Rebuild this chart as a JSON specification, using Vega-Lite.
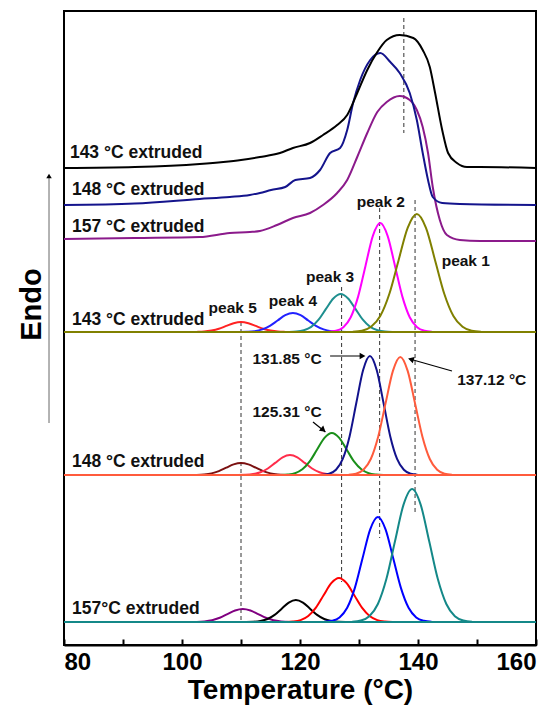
{
  "$schema": "https://vega.github.io/schema/vega-lite/v6.json",
  "width": 472,
  "height": 634,
  "autosize": {"type": "none"},
  "padding": {"left": 64, "top": 11, "right": 24, "bottom": 66},
  "background": "white",
  "config": {
    "view": {"stroke": "#000000", "strokeWidth": 2},
    "font": "Liberation Sans"
  },
  "encoding": {
    "x": {
      "field": "x", "type": "quantitative",
      "scale": {"domain": [80, 160], "nice": false, "zero": false},
      "axis": {
        "values": [80, 90, 100, 110, 120, 130, 140, 150, 160],
        "labelExpr": "datum.value % 20 === 0 ? datum.label : ''",
        "format": "d",
        "title": "Temperature (°C)",
        "titleFont": "Liberation Sans", "titleFontSize": 28, "titleFontWeight": "bold", "titleColor": "#000000",
        "labelFont": "Liberation Sans", "labelFontSize": 24, "labelFontWeight": "bold", "labelColor": "#000000",
        "labelPadding": 11, "titlePadding": 2,
        "tickSize": -6, "tickWidth": 2, "tickColor": "#000000",
        "domainWidth": 2, "domainColor": "#000000", "grid": false
      }
    },
    "y": {
      "field": "y", "type": "quantitative",
      "scale": {"domain": [0, 634], "nice": false, "zero": false},
      "axis": {
        "title": "Endo", "labels": false, "ticks": false, "domain": false, "grid": false,
        "titleFont": "Liberation Sans", "titleFontSize": 29, "titleFontWeight": "bold", "titleColor": "#000000",
        "titlePadding": 18, "titleY": 293
      }
    }
  },
  "layer": [
    {
      "data": {"values": [
        {"x": 110, "y": 323, "y2": 23},
        {"x": 127.05, "y": 358, "y2": 63},
        {"x": 133.5, "y": 437, "y2": 107},
        {"x": 139.5, "y": 445, "y2": 132},
        {"x": 137.6, "y": 627, "y2": 512}
      ]},
      "mark": {"type": "rule", "strokeDash": [4, 3], "strokeWidth": 1, "color": "#333333"},
      "encoding": {"y2": {"field": "y2"}}
    },
    {
      "data": {"values": [
        {"k":"p5_143","x":101.25,"y":313.0},{"k":"p5_143","x":102.5,"y":313.1},{"k":"p5_143","x":103.75,"y":313.4},{"k":"p5_143","x":105,"y":314.4},{"k":"p5_143","x":106.25,"y":316.2},{"k":"p5_143","x":107.5,"y":319.1},{"k":"p5_143","x":108.75,"y":321.8},{"k":"p5_143","x":110,"y":323},{"k":"p5_143","x":111.25,"y":321.8},{"k":"p5_143","x":112.5,"y":319.1},{"k":"p5_143","x":113.75,"y":316.2},{"k":"p5_143","x":115,"y":314.4},{"k":"p5_143","x":116.25,"y":313.4},{"k":"p5_143","x":117.5,"y":313.1},{"k":"p5_143","x":118.75,"y":313.0},
        {"k":"p4_143","x":109.7,"y":313.0},{"k":"p4_143","x":111.0,"y":313.2},{"k":"p4_143","x":112.3,"y":313.8},{"k":"p4_143","x":113.6,"y":315.6},{"k":"p4_143","x":114.9,"y":319.2},{"k":"p4_143","x":116.2,"y":324.5},{"k":"p4_143","x":117.5,"y":329.8},{"k":"p4_143","x":118.8,"y":332},{"k":"p4_143","x":120.1,"y":329.8},{"k":"p4_143","x":121.4,"y":324.5},{"k":"p4_143","x":122.7,"y":319.2},{"k":"p4_143","x":124.0,"y":315.6},{"k":"p4_143","x":125.3,"y":313.8},{"k":"p4_143","x":126.6,"y":313.2},{"k":"p4_143","x":127.9,"y":313.0},
        {"k":"p3_143","x":118.15,"y":313.1},{"k":"p3_143","x":119.4,"y":313.4},{"k":"p3_143","x":120.65,"y":314.7},{"k":"p3_143","x":121.9,"y":318.1},{"k":"p3_143","x":123.15,"y":325.3},{"k":"p3_143","x":124.4,"y":336.1},{"k":"p3_143","x":125.65,"y":346.5},{"k":"p3_143","x":126.9,"y":351},{"k":"p3_143","x":128.15,"y":346.5},{"k":"p3_143","x":129.4,"y":336.1},{"k":"p3_143","x":130.65,"y":325.3},{"k":"p3_143","x":131.9,"y":318.1},{"k":"p3_143","x":133.15,"y":314.7},{"k":"p3_143","x":134.4,"y":313.4},{"k":"p3_143","x":135.65,"y":313.1},
        {"k":"p2_143","x":124.85,"y":313.2},{"k":"p2_143","x":126.1,"y":314.2},{"k":"p2_143","x":127.35,"y":317.8},{"k":"p2_143","x":128.6,"y":327.8},{"k":"p2_143","x":129.85,"y":348.4},{"k":"p2_143","x":131.1,"y":379.1},{"k":"p2_143","x":132.35,"y":409.2},{"k":"p2_143","x":133.6,"y":422},{"k":"p2_143","x":134.85,"y":409.2},{"k":"p2_143","x":136.1,"y":379.1},{"k":"p2_143","x":137.35,"y":348.4},{"k":"p2_143","x":138.6,"y":327.8},{"k":"p2_143","x":139.85,"y":317.8},{"k":"p2_143","x":141.1,"y":314.2},{"k":"p2_143","x":142.35,"y":313.2},
        {"k":"p1_143","x":128.95,"y":313.3},{"k":"p1_143","x":130.5,"y":314.3},{"k":"p1_143","x":132.05,"y":318.2},{"k":"p1_143","x":133.6,"y":329.0},{"k":"p1_143","x":135.15,"y":351.3},{"k":"p1_143","x":136.7,"y":384.6},{"k":"p1_143","x":138.25,"y":417.1},{"k":"p1_143","x":139.8,"y":431},{"k":"p1_143","x":141.35,"y":417.1},{"k":"p1_143","x":142.9,"y":384.6},{"k":"p1_143","x":144.45,"y":351.3},{"k":"p1_143","x":146.0,"y":329.0},{"k":"p1_143","x":147.55,"y":318.2},{"k":"p1_143","x":149.1,"y":314.3},{"k":"p1_143","x":150.65,"y":313.3},
        {"k":"p5_148","x":101.25,"y":170.0},{"k":"p5_148","x":102.5,"y":170.1},{"k":"p5_148","x":103.75,"y":170.5},{"k":"p5_148","x":105,"y":171.6},{"k":"p5_148","x":106.25,"y":173.9},{"k":"p5_148","x":107.5,"y":177.3},{"k":"p5_148","x":108.75,"y":180.6},{"k":"p5_148","x":110,"y":182},{"k":"p5_148","x":111.25,"y":180.6},{"k":"p5_148","x":112.5,"y":177.3},{"k":"p5_148","x":113.75,"y":173.9},{"k":"p5_148","x":115,"y":171.6},{"k":"p5_148","x":116.25,"y":170.5},{"k":"p5_148","x":117.5,"y":170.1},{"k":"p5_148","x":118.75,"y":170.0},
        {"k":"p4_148","x":109.55,"y":170.0},{"k":"p4_148","x":110.8,"y":170.2},{"k":"p4_148","x":112.05,"y":170.9},{"k":"p4_148","x":113.3,"y":172.7},{"k":"p4_148","x":114.55,"y":176.5},{"k":"p4_148","x":115.8,"y":182.1},{"k":"p4_148","x":117.05,"y":187.7},{"k":"p4_148","x":118.3,"y":190},{"k":"p4_148","x":119.55,"y":187.7},{"k":"p4_148","x":120.8,"y":182.1},{"k":"p4_148","x":122.05,"y":176.5},{"k":"p4_148","x":123.3,"y":172.7},{"k":"p4_148","x":124.55,"y":170.9},{"k":"p4_148","x":125.8,"y":170.2},{"k":"p4_148","x":127.05,"y":170.0},
        {"k":"p3_148","x":116.65,"y":170.1},{"k":"p3_148","x":117.9,"y":170.5},{"k":"p3_148","x":119.15,"y":171.8},{"k":"p3_148","x":120.4,"y":175.7},{"k":"p3_148","x":121.65,"y":183.6},{"k":"p3_148","x":122.9,"y":195.5},{"k":"p3_148","x":124.15,"y":207.1},{"k":"p3_148","x":125.4,"y":212},{"k":"p3_148","x":126.65,"y":207.1},{"k":"p3_148","x":127.9,"y":195.5},{"k":"p3_148","x":129.15,"y":183.6},{"k":"p3_148","x":130.4,"y":175.7},{"k":"p3_148","x":131.65,"y":171.8},{"k":"p3_148","x":132.9,"y":170.5},{"k":"p3_148","x":134.15,"y":170.1},
        {"k":"p2_148","x":123.8,"y":170.3},{"k":"p2_148","x":124.95,"y":171.3},{"k":"p2_148","x":126.1,"y":175.2},{"k":"p2_148","x":127.25,"y":186.1},{"k":"p2_148","x":128.4,"y":208.6},{"k":"p2_148","x":129.55,"y":242.2},{"k":"p2_148","x":130.7,"y":275.0},{"k":"p2_148","x":131.85,"y":289},{"k":"p2_148","x":133.0,"y":275.0},{"k":"p2_148","x":134.15,"y":242.2},{"k":"p2_148","x":135.3,"y":208.6},{"k":"p2_148","x":136.45,"y":186.1},{"k":"p2_148","x":137.6,"y":175.2},{"k":"p2_148","x":138.75,"y":171.3},{"k":"p2_148","x":139.9,"y":170.3},
        {"k":"p1_148","x":128.25,"y":170.3},{"k":"p1_148","x":129.5,"y":171.3},{"k":"p1_148","x":130.75,"y":175.2},{"k":"p1_148","x":132.0,"y":186.0},{"k":"p1_148","x":133.25,"y":208.3},{"k":"p1_148","x":134.5,"y":241.6},{"k":"p1_148","x":135.75,"y":274.1},{"k":"p1_148","x":137.0,"y":288},{"k":"p1_148","x":138.25,"y":274.1},{"k":"p1_148","x":139.5,"y":241.6},{"k":"p1_148","x":140.75,"y":208.3},{"k":"p1_148","x":142.0,"y":186.0},{"k":"p1_148","x":143.25,"y":175.2},{"k":"p1_148","x":144.5,"y":171.3},{"k":"p1_148","x":145.75,"y":170.3},
        {"k":"p5_157","x":101.2,"y":23.0},{"k":"p5_157","x":102.5,"y":23.1},{"k":"p5_157","x":103.8,"y":23.6},{"k":"p5_157","x":105.1,"y":24.8},{"k":"p5_157","x":106.4,"y":27.2},{"k":"p5_157","x":107.7,"y":30.9},{"k":"p5_157","x":109.0,"y":34.5},{"k":"p5_157","x":110.3,"y":36},{"k":"p5_157","x":111.6,"y":34.5},{"k":"p5_157","x":112.9,"y":30.9},{"k":"p5_157","x":114.2,"y":27.2},{"k":"p5_157","x":115.5,"y":24.8},{"k":"p5_157","x":116.8,"y":23.6},{"k":"p5_157","x":118.1,"y":23.1},{"k":"p5_157","x":119.4,"y":23.0},
        {"k":"p4_157","x":110.9,"y":23.0},{"k":"p4_157","x":112.1,"y":23.2},{"k":"p4_157","x":113.3,"y":24.0},{"k":"p4_157","x":114.5,"y":26.0},{"k":"p4_157","x":115.7,"y":30.1},{"k":"p4_157","x":116.9,"y":36.3},{"k":"p4_157","x":118.1,"y":42.4},{"k":"p4_157","x":119.3,"y":45},{"k":"p4_157","x":120.5,"y":42.4},{"k":"p4_157","x":121.7,"y":36.3},{"k":"p4_157","x":122.9,"y":30.1},{"k":"p4_157","x":124.1,"y":26.0},{"k":"p4_157","x":125.3,"y":24.0},{"k":"p4_157","x":126.5,"y":23.2},{"k":"p4_157","x":127.7,"y":23.0},
        {"k":"p3_157","x":117.5,"y":23.1},{"k":"p3_157","x":118.8,"y":23.5},{"k":"p3_157","x":120.1,"y":24.9},{"k":"p3_157","x":121.4,"y":29.0},{"k":"p3_157","x":122.7,"y":37.3},{"k":"p3_157","x":124.0,"y":49.7},{"k":"p3_157","x":125.3,"y":61.8},{"k":"p3_157","x":126.6,"y":67},{"k":"p3_157","x":127.9,"y":61.8},{"k":"p3_157","x":129.2,"y":49.7},{"k":"p3_157","x":130.5,"y":37.3},{"k":"p3_157","x":131.8,"y":29.0},{"k":"p3_157","x":133.1,"y":24.9},{"k":"p3_157","x":134.4,"y":23.5},{"k":"p3_157","x":135.7,"y":23.1},
        {"k":"p2_157","x":124.1,"y":23.2},{"k":"p2_157","x":125.4,"y":24.2},{"k":"p2_157","x":126.7,"y":27.6},{"k":"p2_157","x":128.0,"y":37.2},{"k":"p2_157","x":129.3,"y":57.1},{"k":"p2_157","x":130.6,"y":86.7},{"k":"p2_157","x":131.9,"y":115.7},{"k":"p2_157","x":133.2,"y":128},{"k":"p2_157","x":134.5,"y":115.7},{"k":"p2_157","x":135.8,"y":86.7},{"k":"p2_157","x":137.1,"y":57.1},{"k":"p2_157","x":138.4,"y":37.2},{"k":"p2_157","x":139.7,"y":27.6},{"k":"p2_157","x":141.0,"y":24.2},{"k":"p2_157","x":142.3,"y":23.2},
        {"k":"p1_157","x":128.85,"y":23.3},{"k":"p1_157","x":130.3,"y":24.5},{"k":"p1_157","x":131.75,"y":28.8},{"k":"p1_157","x":133.2,"y":41.0},{"k":"p1_157","x":134.65,"y":66.2},{"k":"p1_157","x":136.1,"y":103.7},{"k":"p1_157","x":137.55,"y":140.4},{"k":"p1_157","x":139.0,"y":156},{"k":"p1_157","x":140.45,"y":140.4},{"k":"p1_157","x":141.9,"y":103.7},{"k":"p1_157","x":143.35,"y":66.2},{"k":"p1_157","x":144.8,"y":41.0},{"k":"p1_157","x":146.25,"y":28.8},{"k":"p1_157","x":147.7,"y":24.5},{"k":"p1_157","x":149.15,"y":23.3}
      ]},
      "mark": {"type": "line", "interpolate": "monotone", "strokeWidth": 2},
      "encoding": {
        "color": {"field": "k", "type": "nominal", "legend": null,
          "scale": {
            "domain": ["p5_143","p4_143","p3_143","p2_143","p1_143","p5_148","p4_148","p3_148","p2_148","p1_148","p5_157","p4_157","p3_157","p2_157","p1_157","b143","b148","b157","d143","d148","d157"],
            "range": ["#ff2222","#2222ff","#1e8f8f","#ff00ff","#808000","#7b1111","#ff2d4b","#1a8f1a","#12128c","#ff5b3c","#800080","#000000","#ff0000","#0000ff","#148888","#808000","#ff5b3c","#148888","#000000","#14148c","#8b1a8b"]
          }
        }
      }
    },
    {
      "data": {"values": [
        {"k":"b143","x":80,"y":313},{"k":"b143","x":160,"y":313},
        {"k":"b148","x":80,"y":170},{"k":"b148","x":160,"y":170},
        {"k":"b157","x":80,"y":23},{"k":"b157","x":160,"y":23}
      ]},
      "mark": {"type": "line", "strokeWidth": 2},
      "encoding": {
        "color": {"field": "k", "type": "nominal", "legend": null}
      }
    },
    {
      "data": {"values": [
        {"k":"d157","x":80,"y":406},{"k":"d157","x":92,"y":407},{"k":"d157","x":103,"y":408},{"k":"d157","x":108.1,"y":412},{"k":"d157","x":111.5,"y":413},{"k":"d157","x":113.2,"y":414},{"k":"d157","x":116.1,"y":420},{"k":"d157","x":118.8,"y":427},{"k":"d157","x":121.7,"y":432},{"k":"d157","x":123.9,"y":440},{"k":"d157","x":126.3,"y":452},{"k":"d157","x":128.0,"y":465},{"k":"d157","x":129.7,"y":488},{"k":"d157","x":131.4,"y":512},{"k":"d157","x":133.1,"y":533},{"k":"d157","x":134.7,"y":543},{"k":"d157","x":136.9,"y":549},{"k":"d157","x":138.6,"y":545},{"k":"d157","x":139.8,"y":535},{"k":"d157","x":140.8,"y":518},{"k":"d157","x":141.7,"y":492},{"k":"d157","x":142.5,"y":458},{"k":"d157","x":143.7,"y":425},{"k":"d157","x":144.9,"y":410},{"k":"d157","x":147.1,"y":405},{"k":"d157","x":150.5,"y":404},{"k":"d157","x":160,"y":404},
        {"k":"d148","x":80,"y":440},{"k":"d148","x":92,"y":441.5},{"k":"d148","x":103,"y":446},{"k":"d148","x":108.1,"y":448},{"k":"d148","x":111.5,"y":450},{"k":"d148","x":113.2,"y":452},{"k":"d148","x":115.1,"y":455},{"k":"d148","x":117.5,"y":458},{"k":"d148","x":119.2,"y":465},{"k":"d148","x":121.7,"y":467},{"k":"d148","x":123.4,"y":475},{"k":"d148","x":125.1,"y":492},{"k":"d148","x":126.8,"y":497},{"k":"d148","x":128.0,"y":515},{"k":"d148","x":129.0,"y":542},{"k":"d148","x":130.2,"y":565},{"k":"d148","x":131.9,"y":585},{"k":"d148","x":133.6,"y":592},{"k":"d148","x":135.3,"y":583},{"k":"d148","x":136.9,"y":572},{"k":"d148","x":138.6,"y":552},{"k":"d148","x":139.8,"y":525},{"k":"d148","x":140.8,"y":492},{"k":"d148","x":141.7,"y":465},{"k":"d148","x":142.5,"y":448},{"k":"d148","x":144.1,"y":442},{"k":"d148","x":147.1,"y":441},{"k":"d148","x":160,"y":440},
        {"k":"d143","x":80,"y":477},{"k":"d143","x":92,"y":478},{"k":"d143","x":103,"y":481},{"k":"d143","x":107,"y":483},{"k":"d143","x":110,"y":485},{"k":"d143","x":113.2,"y":488},{"k":"d143","x":116.6,"y":492},{"k":"d143","x":118.8,"y":497},{"k":"d143","x":121.7,"y":502},{"k":"d143","x":123.9,"y":510},{"k":"d143","x":126.3,"y":520},{"k":"d143","x":128.0,"y":530},{"k":"d143","x":129.7,"y":552},{"k":"d143","x":131.4,"y":575},{"k":"d143","x":133.1,"y":593},{"k":"d143","x":134.7,"y":605},{"k":"d143","x":136.9,"y":610},{"k":"d143","x":139.2,"y":607},{"k":"d143","x":140.8,"y":595},{"k":"d143","x":142.0,"y":578},{"k":"d143","x":142.9,"y":552},{"k":"d143","x":144.1,"y":515},{"k":"d143","x":145.1,"y":492},{"k":"d143","x":146.6,"y":482},{"k":"d143","x":148.3,"y":478},{"k":"d143","x":150.5,"y":478},{"k":"d143","x":160,"y":477}
      ]},
      "mark": {"type": "line", "interpolate": "monotone", "strokeWidth": 2},
      "encoding": {
        "color": {"field": "k", "type": "nominal", "legend": null}
      }
    },
    {
      "data": {"values": [
        {"x": 125.1, "y": 289, "x2": 130.6, "y2": 289},
        {"x": 122.2, "y": 223, "x2": 124.3, "y2": 213},
        {"x": 145.76, "y": 274, "x2": 138.6, "y2": 286}
      ]},
      "mark": {"type": "rule", "strokeWidth": 1.2, "color": "#000000"},
      "encoding": {"x2": {"field": "x2"}, "y2": {"field": "y2"}}
    },
    {
      "data": {"values": [{"x": 130.6, "y": 289}]},
      "mark": {"type": "point", "shape": "triangle-up", "angle": 90, "filled": true, "size": 45, "color": "#000000", "opacity": 1}
    },
    {
      "data": {"values": [{"x": 123.95, "y": 215}]},
      "mark": {"type": "point", "shape": "triangle-up", "angle": 130, "filled": true, "size": 45, "color": "#000000", "opacity": 1}
    },
    {
      "data": {"values": [{"x": 138.8, "y": 285.7}]},
      "mark": {"type": "point", "shape": "triangle-up", "angle": 286, "filled": true, "size": 45, "color": "#000000", "opacity": 1}
    },
    {
      "data": {"values": [{"x": 77.46, "y": 222, "y2": 468}]},
      "mark": {"type": "rule", "strokeWidth": 1.5, "color": "#9a9a9a", "clip": false},
      "encoding": {"y2": {"field": "y2"}}
    },
    {
      "data": {"values": [{"x": 77.46, "y": 469}]},
      "mark": {"type": "point", "shape": "triangle-up", "filled": true, "size": 30, "color": "#000000", "opacity": 1, "clip": false}
    },
    {
      "data": {"values": [
        {"x": 81.0, "y": 492, "t": "143 °C extruded"},
        {"x": 81.35, "y": 455, "t": "148 °C extruded"},
        {"x": 81.35, "y": 418, "t": "157 °C extruded"},
        {"x": 81.35, "y": 325, "t": "143 °C extruded"},
        {"x": 81.35, "y": 183, "t": "148 °C extruded"},
        {"x": 81.35, "y": 36, "t": "157°C extruded"}
      ]},
      "mark": {"type": "text", "align": "left", "baseline": "middle", "font": "Liberation Sans", "fontSize": 17.5, "fontWeight": "bold", "color": "#111111"},
      "encoding": {"text": {"field": "t"}}
    },
    {
      "data": {"values": [
        {"x": 108.6, "y": 337, "t": "peak 5"},
        {"x": 118.8, "y": 344, "t": "peak 4"},
        {"x": 125.1, "y": 368, "t": "peak 3"},
        {"x": 133.7, "y": 443, "t": "peak 2"},
        {"x": 148.1, "y": 384, "t": "peak 1"},
        {"x": 117.8, "y": 286, "t": "131.85 °C"},
        {"x": 117.8, "y": 233, "t": "125.31 °C"},
        {"x": 152.5, "y": 265, "t": "137.12 °C"}
      ]},
      "mark": {"type": "text", "align": "center", "baseline": "middle", "font": "Liberation Sans", "fontSize": 15.5, "fontWeight": "bold", "color": "#111111"},
      "encoding": {"text": {"field": "t"}}
    }
  ]
}
